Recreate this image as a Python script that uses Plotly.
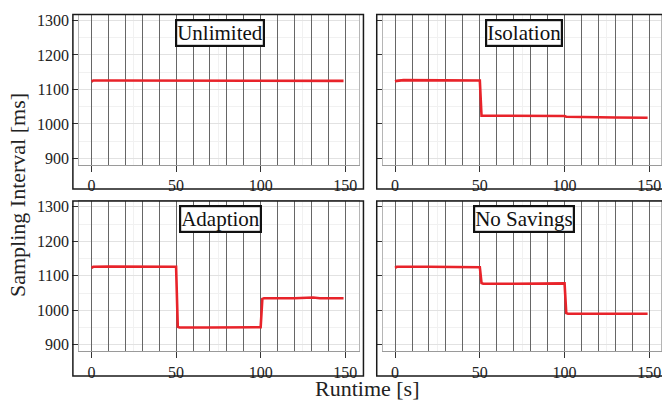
import plotly.graph_objects as go

W, H = 662, 402

# ---- data ----
panels = ["Unlimited", "Isolation", "Adaption", "No Savings"]

unlimited_t = [0, 1, 10, 20, 26, 35, 50, 52, 70, 85, 100, 103, 120, 135, 149]
unlimited_v = [1123, 1126, 1126, 1126, 1127, 1126, 1125, 1126, 1126, 1126, 1125, 1126, 1126, 1126, 1125]

isolation_t = [0, 1, 5, 20, 35, 50, 51, 70, 85, 100, 101, 110, 111, 130, 149]
isolation_v = [1123, 1125, 1127, 1126, 1126, 1126, 1024, 1024, 1024, 1023, 1021, 1021, 1019, 1019, 1018]

adaption_t = [0, 1, 10, 30, 50, 51, 52, 70, 90, 100, 101, 102, 120, 131, 135, 149]
adaption_v = [1123, 1126, 1127, 1126, 1126, 952, 950, 950, 951, 951, 1033, 1035, 1035, 1037, 1035, 1035]

nosavings_t = [0, 1, 20, 40, 50, 51, 52, 70, 90, 100, 101, 102, 120, 149]
nosavings_v = [1123, 1126, 1126, 1126, 1125, 1079, 1077, 1077, 1078, 1078, 992, 990, 990, 990]

series_t = [unlimited_t, isolation_t, adaption_t, nosavings_t]
series_v = [unlimited_v, isolation_v, adaption_v, nosavings_v]

x_ticks = [0, 50, 100, 150]
y_ticks = [900, 1000, 1100, 1200, 1300]
vline_step = 10

label_x = 76
label_y = 1264

# ---- layout geometry (pixels) ----
col_inner = [(79.3, 359.3), (383.3, 662.0)]
col_outer_left = [73.0, 377.3]
col_outer_right = [364.0, 680.0]
col_xrange = [[-7.3, 158.0], [-7.3, 156.9]]
row_inner = [(12.7, 164.7), (200.9, 352.9)]   # top, bottom in px from top
row_outer_bottom = [189.0, 377.7]
y_range = [881, 1317]

FONT = "Liberation Serif"
RED = "#e8232a"

fig = go.Figure()
shapes = []
annotations = []

for i, name in enumerate(panels):
    r, c = divmod(i, 2)
    ax = i + 1
    xa = "x" if ax == 1 else f"x{ax}"
    ya = "y" if ax == 1 else f"y{ax}"
    xl = "xaxis" if ax == 1 else f"xaxis{ax}"
    yl = "yaxis" if ax == 1 else f"yaxis{ax}"
    ova = f"x{ax + 4}"
    ovl = f"xaxis{ax + 4}"

    # empty trace so that the overlay axis (dark vertical grid) is drawn
    fig.add_trace(go.Scatter(x=[None], y=[None], mode="lines", xaxis=ova, yaxis=ya,
                             showlegend=False, hoverinfo="skip"))
    fig.add_trace(go.Scatter(
        x=series_t[i], y=series_v[i], mode="lines",
        line=dict(color=RED, width=2.6), xaxis=xa, yaxis=ya,
        showlegend=False, hoverinfo="skip"))

    x0, x1 = col_inner[c]
    t0, b0 = row_inner[r]
    fig.layout[xl] = dict(
        domain=[x0 / W, x1 / W], range=col_xrange[c], anchor=ya,
        tickvals=x_ticks, ticks="outside", ticklen=6, tickwidth=1.2,
        tickcolor="#333", showline=True, linecolor="#9a9a9a", linewidth=1,
        mirror=True, showgrid=False,
        minor=dict(dtick=25, tick0=0, showgrid=True, gridcolor="#f1f1f1", ticks=""),
        zeroline=False, tickfont=dict(family=FONT, size=16, color="#222"),
        ticklabeloverflow="allow", fixedrange=True)
    # overlay axis that only draws the dark vertical lines every 10 s
    fig.layout[ovl] = dict(
        overlaying=xa, anchor=ya, range=col_xrange[c], dtick=vline_step, tick0=0,
        showgrid=True, gridcolor="#666666", gridwidth=1.1,
        showticklabels=False, ticks="", showline=False, zeroline=False,
        fixedrange=True)
    fig.layout[yl] = dict(
        domain=[(H - b0) / H, (H - t0) / H], range=y_range, anchor=xa,
        tickvals=y_ticks, ticks="outside", ticklen=6, tickwidth=1.2,
        tickcolor="#333", showline=True, linecolor="#b5b5b5", linewidth=1,
        mirror=True, showgrid=True, gridcolor="#e2e2e2", gridwidth=1,
        minor=dict(dtick=50, tick0=0, showgrid=True, gridcolor="#f1f1f1", ticks=""),
        zeroline=False, showticklabels=(c == 0),
        tickfont=dict(family=FONT, size=16, color="#222"),
        fixedrange=True)

    # outer box for the panel
    shapes.append(dict(type="rect", xref="paper", yref="paper",
                       x0=col_outer_left[c] / W, x1=col_outer_right[c] / W,
                       y0=(H - row_outer_bottom[r]) / H, y1=(H - t0) / H,
                       line=dict(color="#1a1a1a", width=1.5), layer="above"))

    annotations.append(dict(
        x=label_x, y=label_y, xref=xa, yref=ya, text=name, showarrow=False,
        font=dict(family=FONT, size=21, color="#111"),
        bgcolor="white", bordercolor="#111", borderwidth=2.2, borderpad=0,
        xanchor="center", yanchor="middle"))

annotations.append(dict(
    x=17 / W, y=(H - 195) / H, xref="paper", yref="paper", text="Sampling Interval [ms]",
    textangle=-90, showarrow=False, font=dict(family=FONT, size=22, color="#222"),
    xanchor="center", yanchor="middle"))
annotations.append(dict(
    x=368 / W, y=(H - 390) / H, xref="paper", yref="paper", text="Runtime [s]",
    showarrow=False, font=dict(family=FONT, size=22, color="#222"),
    xanchor="center", yanchor="middle"))

fig.update_layout(
    width=W, height=H, margin=dict(l=0, r=0, t=0, b=0),
    paper_bgcolor="white", plot_bgcolor="white",
    shapes=shapes, annotations=annotations, showlegend=False)

fig.write_html("out.html", config=dict(displayModeBar=False))
